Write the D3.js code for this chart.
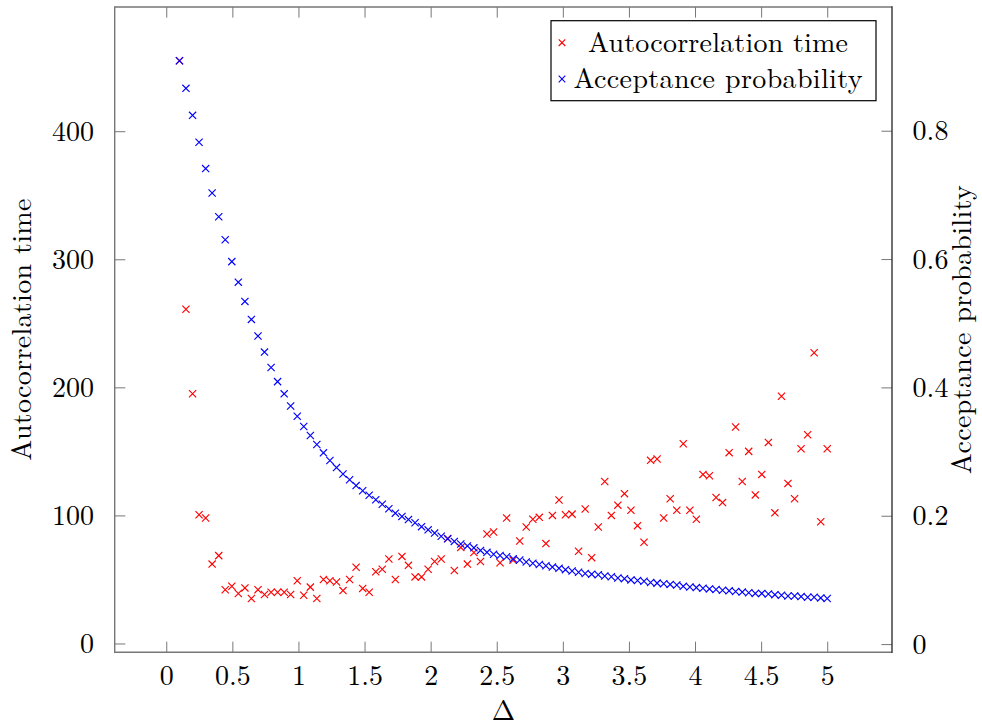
<!DOCTYPE html>
<html>
<head>
<meta charset="utf-8">
<script src="https://cdn.jsdelivr.net/npm/d3@7"></script>
<style>
  body { margin: 0; background: #fff; }
  text { font-family: "Latin Modern Roman", "CMU Serif", "Liberation Serif", serif; fill: #000; }
</style>
</head>
<body>
<div id="chart"></div>
<script>
const width = 982;
const height = 727;
const plot = { left: 114.7, right: 892, top: 7, bottom: 652.3 };

// step length Delta (100 points, 0.1 .. 5)
const deltas = [
  0.100, 0.149, 0.199, 0.248, 0.298, 0.347, 0.397, 0.446, 0.496, 0.545,
  0.595, 0.644, 0.694, 0.743, 0.793, 0.842, 0.892, 0.941, 0.991, 1.040,
  1.090, 1.139, 1.189, 1.238, 1.288, 1.337, 1.387, 1.436, 1.486, 1.535,
  1.585, 1.634, 1.684, 1.733, 1.783, 1.832, 1.882, 1.931, 1.981, 2.030,
  2.080, 2.129, 2.179, 2.228, 2.278, 2.327, 2.377, 2.426, 2.476, 2.525,
  2.575, 2.624, 2.674, 2.723, 2.773, 2.822, 2.872, 2.921, 2.971, 3.020,
  3.070, 3.119, 3.169, 3.218, 3.268, 3.317, 3.367, 3.416, 3.466, 3.515,
  3.565, 3.614, 3.664, 3.713, 3.763, 3.812, 3.862, 3.911, 3.961, 4.010,
  4.060, 4.109, 4.159, 4.208, 4.258, 4.307, 4.357, 4.406, 4.456, 4.505,
  4.555, 4.604, 4.654, 4.703, 4.753, 4.802, 4.852, 4.901, 4.951, 5.000
];

const autocorrelation = [
  455, 261, 195, 100.5, 98, 62, 68.6, 42, 44.7, 39,
  43.4, 35.1, 42, 38.2, 40, 40, 40, 38.2, 49, 37.7,
  44, 35.1, 50, 49, 48, 41.3, 50, 59.5, 43, 40,
  56, 58, 66, 50, 68, 61, 52, 52, 58, 64,
  66, 82, 57, 75, 62, 71, 64, 85.5, 87, 63,
  98, 65, 80, 91, 97, 98.5, 78, 100, 112, 100.5,
  101, 72, 105, 67, 91, 126.5, 100, 108, 117, 104,
  92, 79, 143, 144, 98, 113, 104, 156, 104, 97,
  132, 131, 114, 110, 149, 169, 126.5, 150, 116, 132,
  157, 102, 193, 125, 113, 152, 163, 227, 95, 152
];

const acceptance = [
  0.909, 0.866, 0.824, 0.782, 0.741, 0.703, 0.666, 0.630, 0.596, 0.564,
  0.534, 0.506, 0.480, 0.455, 0.431, 0.409, 0.390, 0.371, 0.355, 0.339,
  0.325, 0.311, 0.298, 0.286, 0.275, 0.265, 0.256, 0.247, 0.239, 0.232,
  0.225, 0.218, 0.211, 0.204, 0.199, 0.194, 0.189, 0.183, 0.178, 0.173,
  0.168, 0.164, 0.160, 0.156, 0.153, 0.150, 0.146, 0.143, 0.140, 0.138,
  0.136, 0.133, 0.131, 0.128, 0.126, 0.124, 0.122, 0.120, 0.118, 0.116,
  0.114, 0.112, 0.110, 0.109, 0.108, 0.106, 0.105, 0.103, 0.102, 0.100,
  0.099, 0.098, 0.096, 0.095, 0.094, 0.093, 0.092, 0.090, 0.089, 0.088,
  0.087, 0.086, 0.085, 0.084, 0.083, 0.082, 0.081, 0.080, 0.079, 0.079,
  0.078, 0.077, 0.076, 0.075, 0.075, 0.074, 0.073, 0.073, 0.072, 0.071
];

const xTicks = [0, 0.5, 1, 1.5, 2, 2.5, 3, 3.5, 4, 4.5, 5];
const leftTicks = [0, 100, 200, 300, 400];
const rightTicks = [0, 0.2, 0.4, 0.6, 0.8];

const fontSize = 28;
const axisGray = '#777';

// pgfplots style: enlarge limits by 10% of the data range
const enlarge = function (extent) {
  const pad = (extent[1] - extent[0]) * 0.1;
  return [extent[0] - pad, extent[1] + pad];
}

const x = d3.scaleLinear()
  .domain(enlarge(d3.extent(deltas)))
  .range([plot.left, plot.right]);

const yLeft = d3.scaleLinear()
  .domain(enlarge(d3.extent(autocorrelation)))
  .range([plot.bottom, plot.top]);

const yRight = d3.scaleLinear()
  .domain(enlarge(d3.extent(acceptance)))
  .range([plot.bottom, plot.top]);

const svg = d3.select('#chart')
  .append('svg')
  .attr('width', width)
  .attr('height', height)
  .attr('viewBox', [0, 0, width, height]);

const tickLen = 10.6;

// x ticks, bottom and top, pointing inward
const xAxisBottom = svg.append('g')
  .attr('transform', `translate(0, ${plot.bottom})`)
  .call(d3.axisBottom(x).tickValues(xTicks).tickSize(-tickLen).tickPadding(tickLen + 12).tickFormat(d3.format('')));

const xAxisTop = svg.append('g')
  .attr('transform', `translate(0, ${plot.top})`)
  .call(d3.axisTop(x).tickValues(xTicks).tickSize(-tickLen).tickFormat(''));

const yAxisLeft = svg.append('g')
  .attr('transform', `translate(${plot.left}, 0)`)
  .call(d3.axisLeft(yLeft).tickValues(leftTicks).tickSize(-tickLen).tickPadding(tickLen + 10));

const yAxisRight = svg.append('g')
  .attr('transform', `translate(${plot.right}, 0)`)
  .call(d3.axisRight(yRight).tickValues(rightTicks).tickSize(-tickLen).tickPadding(tickLen + 10).tickFormat(d3.format('')));

[xAxisBottom, xAxisTop, yAxisLeft, yAxisRight].forEach(g => {
  g.select('.domain').remove();
  g.selectAll('.tick line').attr('stroke', axisGray).attr('stroke-width', 1);
  g.selectAll('.tick text')
    .attr('font-family', null)
    .style('font-size', fontSize + 'px');
});

xAxisBottom.selectAll('.tick text').attr('dy', '0.71em').attr('y', 13);
yAxisLeft.selectAll('.tick text').attr('dy', '0.33em');
yAxisRight.selectAll('.tick text').attr('dy', '0.33em');

// frame
svg.append('path')
  .attr('d', `M${plot.right},${plot.top}H${plot.left}V${plot.bottom}H${plot.right}`)
  .attr('fill', 'none')
  .attr('stroke', axisGray)
  .attr('stroke-width', 1.4);

svg.append('line')
  .attr('x1', plot.right)
  .attr('x2', plot.right)
  .attr('y1', plot.top - 0.7)
  .attr('y2', plot.bottom + 0.7)
  .attr('stroke', '#333')
  .attr('stroke-width', 1.4);

// cross markers
const cross = 'M-3.6,-3.6L3.6,3.6M-3.6,3.6L3.6,-3.6';

svg.append('g')
  .selectAll('path')
  .data(deltas)
  .join('path')
  .attr('d', cross)
  .attr('transform', (d, i) => `translate(${x(d)}, ${yLeft(autocorrelation[i])})`)
  .attr('fill', 'none')
  .attr('stroke', '#ff0000')
  .attr('stroke-width', 1.15);

svg.append('g')
  .selectAll('path')
  .data(deltas)
  .join('path')
  .attr('d', cross)
  .attr('transform', (d, i) => `translate(${x(d)}, ${yRight(acceptance[i])})`)
  .attr('fill', 'none')
  .attr('stroke', '#0000ff')
  .attr('stroke-width', 1.15);

// axis titles
svg.append('text')
  .text('Δ')
  .attr('x', (plot.left + plot.right) / 2)
  .attr('y', 720)
  .attr('text-anchor', 'middle')
  .style('font-size', fontSize + 'px');

svg.append('text')
  .text('Autocorrelation time')
  .attr('transform', `translate(31, ${(plot.top + plot.bottom) / 2}) rotate(-90)`)
  .attr('text-anchor', 'middle')
  .attr('textLength', 262)
  .attr('lengthAdjust', 'spacing')
  .style('font-size', fontSize + 'px');

svg.append('text')
  .text('Acceptance probability')
  .attr('transform', `translate(971, ${(plot.top + plot.bottom) / 2}) rotate(-90)`)
  .attr('text-anchor', 'middle')
  .attr('textLength', 289)
  .attr('lengthAdjust', 'spacing')
  .style('font-size', fontSize + 'px');

// LEGEND
const legend = svg.append('g');

legend.append('rect')
  .attr('x', 551)
  .attr('y', 20.7)
  .attr('width', 325)
  .attr('height', 80)
  .attr('fill', '#fff')
  .attr('stroke', '#000')
  .attr('stroke-width', 1.2);

const legendItems = [
  { label: 'Autocorrelation time', color: '#ff0000', len: 260 },
  { label: 'Acceptance probability', color: '#0000ff', len: 289 }
];

legendItems.forEach((item, i) => {
  const cy = 42.7 + i * 36.3;
  legend.append('path')
    .attr('d', 'M-3.3,-3.3L3.3,3.3M-3.3,3.3L3.3,-3.3')
    .attr('transform', `translate(562, ${cy})`)
    .attr('fill', 'none')
    .attr('stroke', item.color)
    .attr('stroke-width', 1.1);
  legend.append('text')
    .text(item.label)
    .attr('x', 718)
    .attr('y', cy + 9)
    .attr('text-anchor', 'middle')
    .attr('textLength', item.len)
    .attr('lengthAdjust', 'spacing')
    .style('font-size', fontSize + 'px');
});
</script>
</body>
</html>
